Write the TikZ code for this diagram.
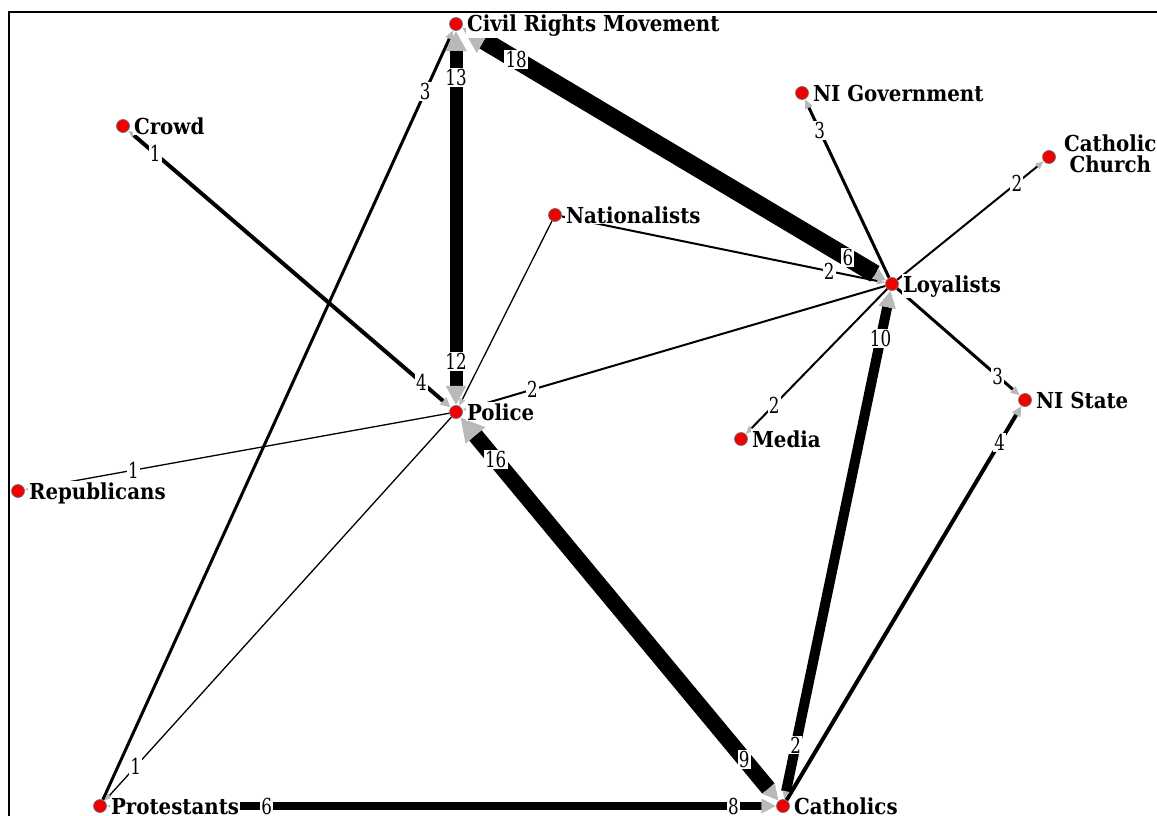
\documentclass[tikz,border=0pt]{standalone}
\usepackage{fontspec}
\usetikzlibrary{arrows.meta,backgrounds}
\newfontfamily\labelfont[FakeStretch=0.9]{DejaVu Serif}
\newfontfamily\weightfont[FakeStretch=0.76]{DejaVu Serif}
\definecolor{dotred}{RGB}{240,0,0}
\definecolor{tipgray}{RGB}{185,185,185}
\pgfdeclarelayer{weights}
\pgfsetlayers{background,weights,main}
\tikzset{
  actor/.style={circle, fill=dotred, draw=black!55, line width=0.7pt, minimum size=13pt, inner sep=0pt},
  actorname/.style={anchor=base west, inner sep=1pt, fill=white,
    font=\labelfont\bfseries\fontsize{22}{23}\selectfont},
  link/.style={draw=black, line width=#1pt,
    -{Triangle[length=6pt 1.1, width=4pt 1.25, color=tipgray]}},
  wt/.style={fill=white, inner sep=1.2pt, font=\weightfont\fontsize{22}{22}\selectfont},
}
% a tie: line (and arrow) underneath, its weight label on a layer above all lines
\newcommand\tie[5]{%
  \begin{pgfonlayer}{background}\draw[link=#1] (#2) -- (#3);\end{pgfonlayer}%
  \begin{pgfonlayer}{weights}\path (#2) -- node[wt, pos=#4] {#5} (#3);\end{pgfonlayer}}
\begin{document}
\begin{tikzpicture}[x=1pt, y=-1pt]
\useasboundingbox (0,0) rectangle (1157,816);
\draw[line width=2pt] (9,816) -- (9,12) -- (1157,12);

% actors
\node[actor] (crm)  at (456,24)  {};
\node[actor] (crowd) at (123,126) {};
\node[actor] (nigov) at (802,93) {};
\node[actor] (cc)   at (1049,157) {};
\node[actor] (nat)  at (555,215) {};
\node[actor] (loy)  at (892,284) {};
\node[actor] (pol)  at (456,412) {};
\node[actor] (nis)  at (1025,400) {};
\node[actor] (med)  at (741,439) {};
\node[actor] (rep)  at (18,491) {};
\node[actor] (prot) at (100,806) {};
\node[actor] (cath) at (783,806) {};

% actor names
\node[actorname] (crm-t)   at ([xshift=3pt,yshift=-8pt]crm.east)   {Civil Rights Movement};
\node[actorname] (crowd-t) at ([xshift=3pt,yshift=-8pt]crowd.east) {Crowd};
\node[actorname] (nigov-t) at ([xshift=3pt,yshift=-8pt]nigov.east) {NI Government};
\node[actorname, anchor=west, align=center, inner sep=0pt] (cc-t) at ([xshift=8pt,yshift=3pt]cc.east) {Catholic\\[-2pt]Church};
\node[actorname] (nat-t)   at ([xshift=3pt,yshift=-8pt]nat.east)   {Nationalists};
\node[actorname] (loy-t)   at ([xshift=3pt,yshift=-8pt]loy.east)   {Loyalists};
\node[actorname] (pol-t)   at ([xshift=3pt,yshift=-8pt]pol.east)   {Police};
\node[actorname] (nis-t)   at ([xshift=3pt,yshift=-8pt]nis.east)   {NI State};
\node[actorname] (med-t)   at ([xshift=3pt,yshift=-8pt]med.east)   {Media};
\node[actorname] (rep-t)   at ([xshift=3pt,yshift=-8pt]rep.east)   {Republicans};
\node[actorname] (prot-t)  at ([xshift=3pt,yshift=-8pt]prot.east)  {Protestants};
\node[actorname] (cath-t)  at ([xshift=3pt,yshift=-8pt]cath.east)  {Catholics};

% ties, heaviest first; each weight is written next to the receiving actor
\tie{18, shorten <=13pt}{loy}{crm}{.872}{18}
\tie{16, shorten <=16pt}{cath}{pol}{.889}{16}
\tie{13, shorten <=19pt}{pol}{crm}{.876}{13}
\tie{12, shorten <=20pt}{crm}{pol}{.884}{12}
\tie{10, shorten <=8pt}{cath}{loy}{.906}{10}
\tie{9, shorten <=24pt}{pol}{cath}{.892}{9}
\tie{8, shorten <=13pt}{prot}{cath}{.936}{8}
\tie{6, shorten <=26pt}{crm}{loy}{.91}{6}
\tie{6, shorten <=15pt}{cath}{prot}{.761}{6}
\tie{4, shorten <=7pt}{crowd}{pol}{.909}{4}
\tie{4}{cath}{nis}{.907}{4}
\tie{3}{prot}{crm}{.92}{3}
\tie{3}{loy}{nigov}{.826}{3}
\tie{3}{loy}{nis}{.82}{3}
\tie{2}{loy}{cc}{.817}{2}
\tie{2}{nat}{loy}{.827}{2}
\tie{2}{loy}{pol}{.835}{2}
\tie{2, shorten <=17pt}{loy}{cath}{.893}{2}
\tie{2}{loy}{med}{.80}{2}
\tie{1.3, shorten <=10pt}{pol}{crowd}{.916}{1}
\tie{1.3}{pol}{prot}{.91}{1}
\tie{1.3}{pol}{rep}{.744}{1}
\begin{pgfonlayer}{background}
\draw[link=1.3] (nat) -- (pol);
\end{pgfonlayer}
\end{tikzpicture}
\end{document}
